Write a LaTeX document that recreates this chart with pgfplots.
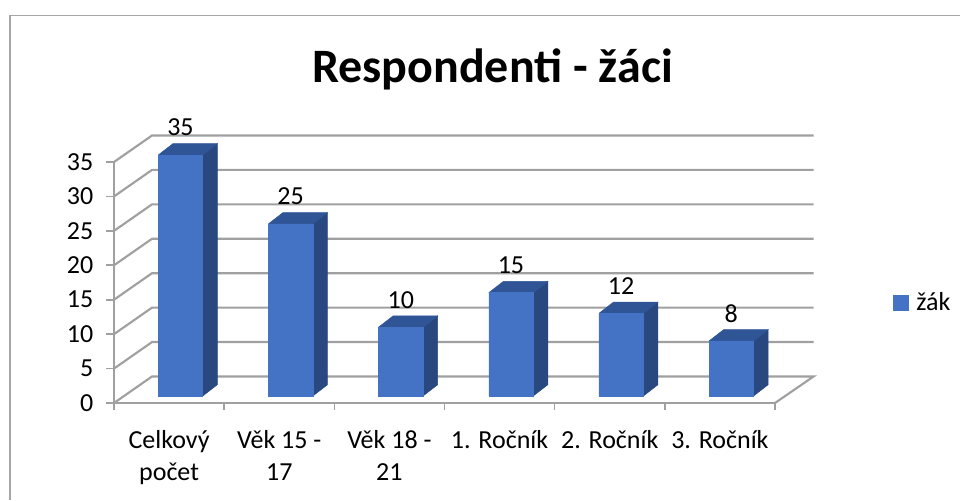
\documentclass[border=0pt]{standalone}
\usepackage{fontspec}
\setmainfont{Carlito}
\usepackage{pgfplots}
\pgfplotsset{compat=1.18}
\definecolor{barF}{HTML}{4472C4}
\definecolor{barT}{HTML}{2F5597}
\definecolor{barS}{HTML}{2A4880}
\definecolor{wallc}{HTML}{A0A0A0}
\pgfplotsset{common/.style={
  scale only axis, width=495.75pt, height=180.75pt,
  xmin=-0.5, xmax=5.5, ymin=0, ymax=35, clip=false,
  /pgf/number format/assume math mode=true,
}}
\begin{document}
\begin{tikzpicture}
\path[use as bounding box] (0,0) rectangle (720pt,375pt);
\draw[color=black!35, line width=1.2pt] (7.5pt,0) -- (7.5pt,363.5pt) -- (720pt,363.5pt);
\begin{axis}[common, at={(85.5pt,72.75pt)}, anchor=south west,
  axis x line*=bottom, axis y line*=left,
  axis line style={-, wallc, line width=1.6pt},
  ytick={0,5,...,35},
  xtick={0,1,2,3,4,5},
  xticklabels={{Celkový\\počet},{Věk 15 -\\17},{Věk 18 -\\21},{1. Ročník},{2. Ročník},{3. Ročník}},
  minor xtick={-0.5,0.5,1.5,2.5,3.5,4.5,5.5},
  tick align=outside,
  major tick length=6pt, minor tick length=5pt,
  major x tick style={draw=none},
  major y tick style={wallc, line width=1.2pt},
  minor x tick style={wallc, line width=1.2pt},
  tick label style={font=\fontsize{19.5}{24}\selectfont},
  x tick label style={align=center, anchor=north, yshift=-11pt},
  y tick label style={anchor=east, xshift=-6pt},
  title={Respondenti - žáci},
  title style={at={(0.5726,1.349)}, anchor=center, font=\fontsize{36}{40}\selectfont\bfseries},
]
\addplot[wallc, line width=1.6pt] coordinates {(-0.5,0) (-0.155,3.85) (5.85,3.85) (5.5,0)};
\addplot[wallc, line width=1.6pt] coordinates {(-0.5,5) (-0.155,8.85) (5.85,8.85)};
\addplot[wallc, line width=1.6pt] coordinates {(-0.5,10) (-0.155,13.85) (5.85,13.85)};
\addplot[wallc, line width=1.6pt] coordinates {(-0.5,15) (-0.155,18.85) (5.85,18.85)};
\addplot[wallc, line width=1.6pt] coordinates {(-0.5,20) (-0.155,23.85) (5.85,23.85)};
\addplot[wallc, line width=1.6pt] coordinates {(-0.5,25) (-0.155,28.85) (5.85,28.85)};
\addplot[wallc, line width=1.6pt] coordinates {(-0.5,30) (-0.155,33.85) (5.85,33.85)};
\addplot[wallc, line width=1.6pt] coordinates {(-0.5,35) (-0.155,38.85) (5.85,38.85)};
\end{axis}
\begin{axis}[common, at={(94.05pt,78pt)}, anchor=south west,
  hide axis,
  legend style={draw=none, fill=none, at={(1.161,0.388)}, anchor=west, font=\fontsize{19.5}{24}\selectfont, inner sep=0pt, outer sep=0pt, legend cell align=left},
  legend image code/.code={\fill[barF] (0pt,-5.6pt) rectangle (11.2pt,5.6pt);},
]
% side faces
\addplot[barS, fill=barS, forget plot] coordinates {(0.2015,0) (0.334,1.64) (0.334,36.64) (0.2015,35)};
\addplot[barS, fill=barS, forget plot] coordinates {(1.2015,0) (1.334,1.64) (1.334,26.64) (1.2015,25)};
\addplot[barS, fill=barS, forget plot] coordinates {(2.2015,0) (2.334,1.64) (2.334,11.64) (2.2015,10)};
\addplot[barS, fill=barS, forget plot] coordinates {(3.2015,0) (3.334,1.64) (3.334,16.64) (3.2015,15)};
\addplot[barS, fill=barS, forget plot] coordinates {(4.2015,0) (4.334,1.64) (4.334,13.64) (4.2015,12)};
\addplot[barS, fill=barS, forget plot] coordinates {(5.2015,0) (5.334,1.64) (5.334,9.64) (5.2015,8)};
% top faces
\addplot[barT, fill=barT, forget plot] coordinates {(-0.2015,35) (-0.069,36.64) (0.334,36.64) (0.2015,35)};
\addplot[barT, fill=barT, forget plot] coordinates {(0.7985,25) (0.931,26.64) (1.334,26.64) (1.2015,25)};
\addplot[barT, fill=barT, forget plot] coordinates {(1.7985,10) (1.931,11.64) (2.334,11.64) (2.2015,10)};
\addplot[barT, fill=barT, forget plot] coordinates {(2.7985,15) (2.931,16.64) (3.334,16.64) (3.2015,15)};
\addplot[barT, fill=barT, forget plot] coordinates {(3.7985,12) (3.931,13.64) (4.334,13.64) (4.2015,12)};
\addplot[barT, fill=barT, forget plot] coordinates {(4.7985,8) (4.931,9.64) (5.334,9.64) (5.2015,8)};
% front faces
\addplot[ybar, bar width=0.403, draw=barF, fill=barF, bar shift=0pt,
  nodes near coords,
  every node near coord/.append style={anchor=center, yshift=20.6pt, text=black, font=\fontsize{19.5}{24}\selectfont},
] coordinates {(0,35) (1,25) (2,10) (3,15) (4,12) (5,8)};
\addlegendentry{\hspace{4pt}žák}
\end{axis}
\end{tikzpicture}
\end{document}
